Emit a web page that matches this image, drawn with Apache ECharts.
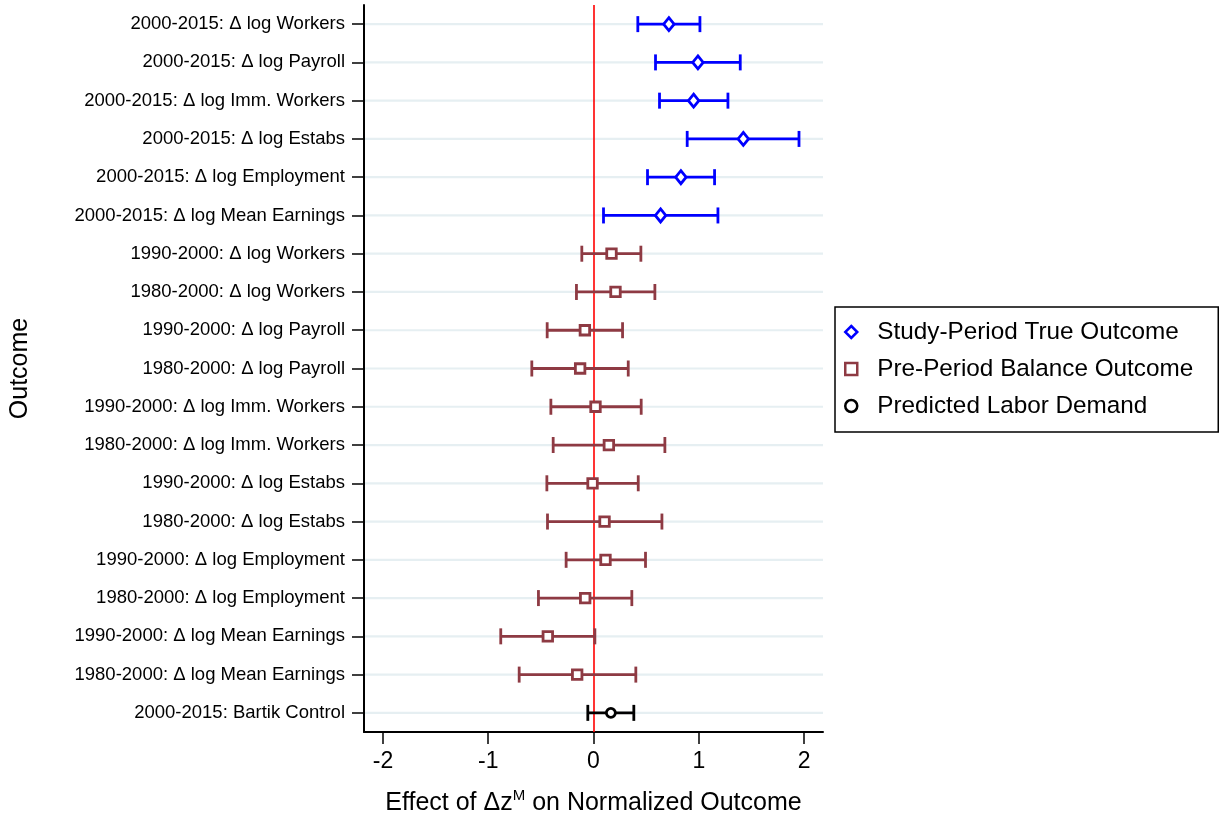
<!DOCTYPE html>
<html>
<head>
<meta charset="utf-8">
<style>
html,body{margin:0;padding:0;background:#fff;}
#chart{width:1222px;height:824px;}
</style>
<script src="https://cdn.jsdelivr.net/npm/echarts@6/dist/echarts.min.js"></script>
</head>
<body>
<div id="chart"></div>
<script>
// ---- data ----
var categories = [
  "2000-2015: Δ log Workers",
  "2000-2015: Δ log Payroll",
  "2000-2015: Δ log Imm. Workers",
  "2000-2015: Δ log Estabs",
  "2000-2015: Δ log Employment",
  "2000-2015: Δ log Mean Earnings",
  "1990-2000: Δ log Workers",
  "1980-2000: Δ log Workers",
  "1990-2000: Δ log Payroll",
  "1980-2000: Δ log Payroll",
  "1990-2000: Δ log Imm. Workers",
  "1980-2000: Δ log Imm. Workers",
  "1990-2000: Δ log Estabs",
  "1980-2000: Δ log Estabs",
  "1990-2000: Δ log Employment",
  "1980-2000: Δ log Employment",
  "1990-2000: Δ log Mean Earnings",
  "1980-2000: Δ log Mean Earnings",
  "2000-2015: Bartik Control"
];
var studyRows = categories.slice(0, 6);
var studyEst = [0.716, 0.992, 0.951, 1.423, 0.830, 0.637];
var studyLo  = [0.421, 0.589, 0.627, 0.890, 0.513, 0.095];
var studyHi  = [1.011, 1.394, 1.277, 1.952, 1.150, 1.182];

var preRows = categories.slice(6, 18);
var preEst = [0.171, 0.209, -0.082, -0.127, 0.019, 0.146, -0.009, 0.105, 0.114, -0.079, -0.434, -0.155];
var preLo  = [-0.111, -0.162, -0.440, -0.586, -0.405, -0.383, -0.443, -0.437, -0.260, -0.523, -0.881, -0.706];
var preHi  = [0.450, 0.583, 0.276, 0.330, 0.453, 0.678, 0.425, 0.650, 0.494, 0.364, 0.013, 0.402];

var bartikRows = categories.slice(18, 19);
var bartikEst = [0.165];
var bartikLo  = [-0.054];
var bartikHi  = [0.383];

var xTicks = [-2, -1, 0, 1, 2];
var seriesNames = ["Study-Period True Outcome", "Pre-Period Balance Outcome", "Predicted Labor Demand"];

// ---- styling ----
var FONT = "'Liberation Sans', Arial, Helvetica, sans-serif";
var BLUE = "#0000ff", MAROON = "#8e3a43", BLACK = "#000000";

function zip3(rows, lo, hi) { return rows.map(function (r, i) { return [lo[i], hi[i], r]; }); }
function zip2(rows, est) { return rows.map(function (r, i) { return [est[i], r]; }); }

function errorBarRender(color) {
  return function (params, api) {
    var y = api.value(2);
    var p1 = api.coord([api.value(0), y]);
    var p2 = api.coord([api.value(1), y]);
    var h = 8;
    var st = { stroke: color, lineWidth: 2.8 };
    return {
      type: 'group',
      children: [
        { type: 'line', shape: { x1: p1[0], y1: p1[1], x2: p2[0], y2: p2[1] }, style: st },
        { type: 'line', shape: { x1: p1[0], y1: p1[1] - h, x2: p1[0], y2: p1[1] + h }, style: st },
        { type: 'line', shape: { x1: p2[0], y1: p2[1] - h, x2: p2[0], y2: p2[1] + h }, style: st }
      ]
    };
  };
}

var chart = echarts.init(document.getElementById('chart'), null, { renderer: 'canvas' });
var option = {
  backgroundColor: '#ffffff',
  animation: false,
  textStyle: { fontFamily: FONT },
  grid: { left: 364, right: 399, top: 5, bottom: 91, containLabel: false },
  xAxis: {
    type: 'value', min: -2.18, max: 2.18,
    axisLine: { show: true, onZero: false, lineStyle: { color: BLACK, width: 2 } },
    axisTick: { show: true, length: 12, lineStyle: { color: BLACK, width: 1.5 }, customValues: xTicks },
    axisLabel: { color: BLACK, fontSize: 23, fontFamily: FONT, margin: 18, customValues: xTicks },
    splitLine: { show: false },
    name: '{a|Effect of Δz}{s|M}{a| on Normalized Outcome}',
    nameLocation: 'middle', nameGap: 56,
    nameTextStyle: {
      color: BLACK, fontFamily: FONT, fontSize: 25,
      rich: {
        a: { fontSize: 25, fontFamily: FONT, color: BLACK, lineHeight: 30 },
        s: { fontSize: 15, fontFamily: FONT, color: BLACK, verticalAlign: 'top', lineHeight: 30, padding: [0, 0, 16, 0] }
      }
    }
  },
  yAxis: {
    type: 'category', data: categories, inverse: true,
    axisLine: { show: true, onZero: false, lineStyle: { color: BLACK, width: 2 } },
    axisTick: { show: true, alignWithLabel: true, length: 12, lineStyle: { color: BLACK, width: 1.5 } },
    axisLabel: { color: BLACK, fontSize: 18.5, fontFamily: FONT, margin: 19, interval: 0 },
    splitLine: { show: false },
    name: 'Outcome', nameLocation: 'middle', nameGap: 331, nameRotate: 90,
    nameTextStyle: { color: BLACK, fontSize: 25, fontFamily: FONT }
  },
  legend: {
    orient: 'vertical', left: 835, top: 307,
    padding: [12, 25, 13, 9],
    itemWidth: 12, itemHeight: 12, itemGap: 11,
    borderColor: BLACK, borderWidth: 1.5, borderRadius: 0,
    selectedMode: false,
    textStyle: { color: BLACK, fontSize: 24.3, fontFamily: FONT, lineHeight: 26, padding: [0, 0, 0, 15] },
    data: [
      { name: seriesNames[0], icon: 'diamond', itemStyle: { color: '#fff', borderColor: BLUE, borderWidth: 2.5 } },
      { name: seriesNames[1], icon: 'rect', itemStyle: { color: '#fff', borderColor: MAROON, borderWidth: 2.5 } },
      { name: seriesNames[2], icon: 'circle', itemStyle: { color: '#fff', borderColor: BLACK, borderWidth: 2.5 } }
    ]
  },
  series: [
    {
      type: 'custom', name: 'grid', silent: true, z: 1,
      data: categories.map(function (c) { return [c]; }),
      encode: { y: 0 },
      renderItem: function (params, api) {
        var cs = params.coordSys;
        var p = api.coord([0, api.value(0)]);
        return { type: 'line', shape: { x1: cs.x + 1, y1: p[1], x2: cs.x + cs.width, y2: p[1] },
                 style: { stroke: '#e6eff2', lineWidth: 2.2 } };
      }
    },
    {
      type: 'custom', name: 'zeroLine', silent: true, z: 2,
      data: [[0]],
      encode: { x: 0 },
      renderItem: function (params, api) {
        var cs = params.coordSys;
        var p = api.coord([api.value(0), categories[0]]);
        var x = Math.round(p[0]);
        return { type: 'line', shape: { x1: x, y1: cs.y, x2: x, y2: cs.y + cs.height },
                 style: { stroke: '#ff0000', lineWidth: 1.6 } };
      }
    },
    { type: 'custom', name: 'eb1', z: 3, silent: true, data: zip3(studyRows, studyLo, studyHi),
      encode: { x: [0, 1], y: 2 }, renderItem: errorBarRender(BLUE) },
    { type: 'custom', name: 'eb2', z: 3, silent: true, data: zip3(preRows, preLo, preHi),
      encode: { x: [0, 1], y: 2 }, renderItem: errorBarRender(MAROON) },
    { type: 'custom', name: 'eb3', z: 3, silent: true, data: zip3(bartikRows, bartikLo, bartikHi),
      encode: { x: [0, 1], y: 2 }, renderItem: errorBarRender(BLACK) },
    { type: 'scatter', name: seriesNames[0], z: 5, symbol: 'diamond', symbolSize: [10.5, 13],
      data: zip2(studyRows, studyEst),
      itemStyle: { color: '#fff', borderColor: BLUE, borderWidth: 2.8, opacity: 1 } },
    { type: 'scatter', name: seriesNames[1], z: 5, symbol: 'rect', symbolSize: [9.5, 9.5],
      data: zip2(preRows, preEst),
      itemStyle: { color: '#fff', borderColor: MAROON, borderWidth: 2.8, opacity: 1 } },
    { type: 'scatter', name: seriesNames[2], z: 5, symbol: 'circle', symbolSize: 9,
      data: zip2(bartikRows, bartikEst),
      itemStyle: { color: '#fff', borderColor: BLACK, borderWidth: 2.8, opacity: 1 } }
  ]
};
chart.setOption(option);
</script>
</body>
</html>
